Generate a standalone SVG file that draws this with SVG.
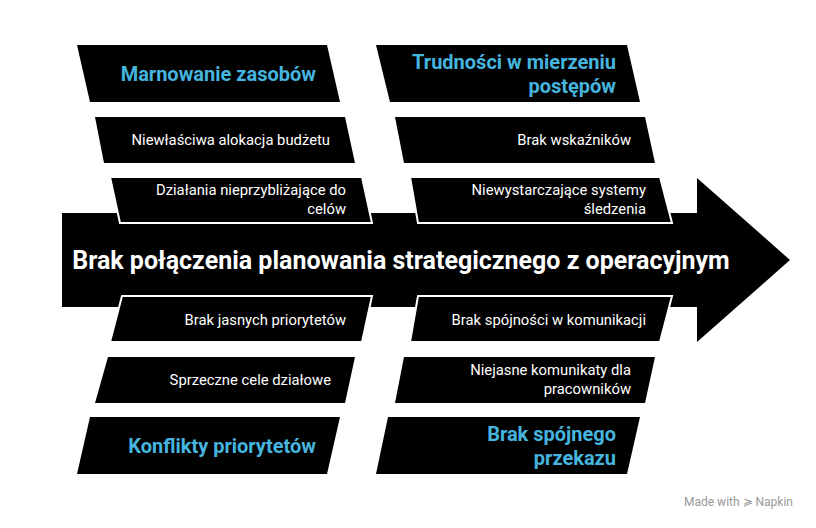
<svg xmlns="http://www.w3.org/2000/svg" width="816" height="528" viewBox="0 0 816 528">
<style>
.b{fill:#000}
.w{fill:#000;stroke:#fff;stroke-width:2}
.h{font-family:Roboto,"Liberation Sans",sans-serif;font-weight:bold;font-size:20px;fill:#45b5df;text-anchor:end}
.s{font-family:Roboto,"Liberation Sans",sans-serif;font-size:14.8px;fill:#fff;text-anchor:end}
.t{font-family:Roboto,"Liberation Sans",sans-serif;font-weight:bold;font-size:25px;fill:#fff;text-anchor:middle}
</style>
<rect width="816" height="528" fill="#fff"/>
<g id="spine">
<polygon class="b" points="62,213 697,213 697,178 790,260 697,342 697,307 62,307"/>
<text class="t" x="401" y="269">Brak połączenia planowania strategicznego z operacyjnym</text>
</g>
<g id="connectors"></g>
<g id="n1"><polygon class="b" points="77,45 327,45 340,102 90,102"/><text class="h" x="316" y="81">Marnowanie zasobów</text></g>
<g id="n2"><polygon class="b" points="95,117 345,117 355,163 104,163"/><text class="s" x="330" y="145">Niewłaściwa alokacja budżetu</text></g>
<g id="n3"><polygon class="w" points="110,177 362,177 372,223 120,223"/><text class="s" x="346" y="195">Działania nieprzybliżające do</text><text class="s" x="346" y="214">celów</text></g>
<g id="n4"><polygon class="b" points="376,45 627,45 640,102 390,102"/><text class="h" x="616" y="69">Trudności w mierzeniu</text><text class="h" x="616" y="93">postępów</text></g>
<g id="n5"><polygon class="b" points="395,117 645,117 655,163 404,163"/><text class="s" x="631" y="145">Brak wskaźników</text></g>
<g id="n6"><polygon class="w" points="410,177 660,177 672,223 418,223"/><text class="s" x="646" y="195">Niewystarczające systemy</text><text class="s" x="646" y="214">śledzenia</text></g>
<g id="n7"><polygon class="w" points="122,296 372,296 362,342 110,342"/><text class="s" x="346" y="325">Brak jasnych priorytetów</text></g>
<g id="n8"><polygon class="b" points="108,357 355,357 345,403 95,403"/><text class="s" x="331" y="385">Sprzeczne cele działowe</text></g>
<g id="n9"><polygon class="b" points="90,417 340,417 327,474 77,474"/><text class="h" x="316" y="453">Konflikty priorytetów</text></g>
<g id="n10"><polygon class="w" points="418,296 672,296 660,342 410,342"/><text class="s" x="646" y="325">Brak spójności w komunikacji</text></g>
<g id="n11"><polygon class="b" points="404,357 655,357 645,403 395,403"/><text class="s" x="631" y="375">Niejasne komunikaty dla</text><text class="s" x="631" y="394">pracowników</text></g>
<g id="n12"><polygon class="b" points="388,417 640,417 627,474 376,474"/><text class="h" x="616" y="441">Brak spójnego</text><text class="h" x="616" y="465">przekazu</text></g>
<text x="793" y="506" font-family="Roboto,'Liberation Sans',sans-serif" font-size="12" fill="#999" text-anchor="end">Made with ≽ Napkin</text>
</svg>
